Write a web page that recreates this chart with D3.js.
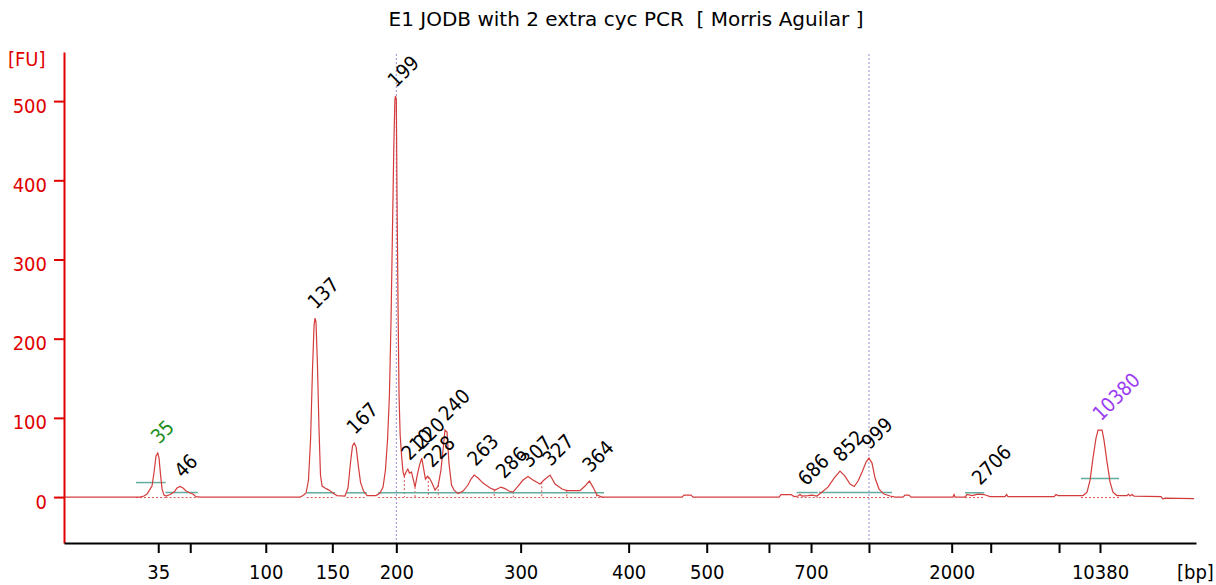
<!DOCTYPE html>
<html>
<head>
<meta charset="utf-8">
<script src="https://cdn.jsdelivr.net/npm/d3@7"></script>
<style>
	body { margin: 0; background: #fff; }
	svg text { font-family: "DejaVu Sans Condensed", "DejaVu Sans", sans-serif; font-size: 20px; }
	svg text.title { font-family: "DejaVu Sans", sans-serif; white-space: pre; }
</style>
</head>
<body>
<div id="chart"></div>
<script>
const dest		= '#chart';

const title		= 'E1 JODB with 2 extra cyc PCR  [ Morris Aguilar ]';

// ladder sizes [bp] and their migration times [s]
const ladderBp		= [35, 50, 100, 150, 200, 300, 400, 500, 600, 700, 1000, 2000, 3000, 7000, 10380];
const ladderTime	= [46.89, 48.89, 53.61, 57.77, 61.77, 69.54, 76.29, 81.17, 85.06, 87.69, 91.31, 96.48, 98.92, 103.19, 105.75];
const ladderShown	= [35, 100, 150, 200, 300, 400, 500, 700, 2000, 10380];

const fuTicks		= [0, 100, 200, 300, 400, 500];

// electropherogram: [time s, FU]
const trace = [
	[41.0, 0], [45.75, 0], [46.0, 1.3], [46.19, 3.8], [46.38, 10.1], [46.5, 13.9], [46.63, 31.6], [46.75, 51.8],
	[46.86, 55.6], [46.94, 49.2], [47.03, 29.0], [47.13, 10.1], [47.25, 2.5], [47.38, 1.3], [47.63, 3.2], [47.88, 6.3],
	[48.06, 11.4], [48.25, 13.3], [48.44, 11.4], [48.63, 7.6], [48.88, 5.1], [49.06, 3.8], [49.25, 0.6], [49.5, 0],
	[55.75, 0], [55.94, 1.9], [56.13, 5.1], [56.28, 21.5], [56.41, 72.0], [56.53, 160.4], [56.63, 217.2], [56.69, 226.0],
	[56.75, 221.0], [56.84, 166.7], [56.94, 84.6], [57.03, 27.8], [57.13, 13.9], [57.31, 11.4], [57.56, 8.8], [57.81, 5.1],
	[58.06, 1.9], [58.56, 1.3], [58.75, 11.4], [58.91, 44.2], [59.03, 64.4], [59.14, 68.2], [59.26, 63.1], [59.39, 40.4],
	[59.53, 18.9], [59.72, 7.6], [59.94, 1.9], [60.5, 1.9], [60.75, 5.1], [60.94, 12.6], [61.09, 34.1], [61.22, 72.0],
	[61.34, 128.8], [61.44, 223.5], [61.53, 337.1], [61.61, 438.1], [61.68, 501.3], [61.72, 506.3], [61.77, 501.3], [61.81, 387.6],
	[61.88, 236.1], [61.94, 128.8], [62.01, 78.3], [62.11, 49.2], [62.19, 31.6], [62.27, 26.5], [62.38, 31.6], [62.49, 35.4],
	[62.59, 30.3], [62.72, 31.6], [62.81, 24.0], [62.94, 12.6], [63.09, 29.0], [63.22, 40.4], [63.36, 49.2], [63.47, 36.6],
	[63.59, 22.7], [63.72, 26.5], [63.84, 24.0], [64.0, 17.7], [64.19, 8.8], [64.38, 13.9], [64.56, 34.1], [64.72, 65.7],
	[64.81, 84.6], [64.94, 82.1], [65.06, 42.9], [65.22, 15.2], [65.38, 8.8], [65.63, 4.4], [65.94, 7.6], [66.25, 15.2],
	[66.44, 22.7], [66.63, 27.8], [66.88, 24.0], [67.19, 17.7], [67.63, 11.4], [67.94, 8.8], [68.31, 12.6], [68.56, 10.7],
	[68.81, 7.6], [69.06, 6.3], [69.38, 13.9], [69.69, 21.5], [70.0, 25.9], [70.31, 21.5], [70.75, 16.4], [71.0, 21.5],
	[71.38, 27.8], [71.69, 16.4], [72.13, 10.1], [72.44, 8.2], [73.25, 8.2], [73.56, 13.9], [73.84, 20.2], [74.06, 12.6],
	[74.31, 2.5], [74.63, 0], [79.63, 0], [79.75, 2.5], [80.19, 2.5], [80.31, 0], [85.69, 0], [85.81, 3.2],
	[86.44, 3.2], [86.63, 0.6], [86.88, 1.3], [87.0, 3.2], [87.13, 1.3], [87.5, 1.9], [87.75, 2.5], [88.06, 1.3],
	[88.38, 6.3], [88.75, 12.6], [89.13, 24.0], [89.5, 32.8], [89.81, 26.5], [90.13, 16.4], [90.39, 13.3], [90.63, 20.2],
	[90.88, 31.6], [91.13, 44.2], [91.31, 49.2], [91.5, 42.9], [91.69, 24.0], [91.94, 10.1], [92.25, 3.8], [92.63, 1.3],
	[92.94, 0], [93.44, 0], [93.56, 2.5], [93.81, 2.5], [93.94, 0], [96.56, 0], [96.63, 3.2], [96.69, 0],
	[97.31, 0], [97.44, 3.2], [97.75, 1.9], [98.13, 3.8], [98.5, 3.2], [98.88, 0.6], [99.81, 0.6], [99.91, 3.2],
	[100.0, 0.6], [102.88, 0.6], [103.0, 3.2], [103.13, 1.9], [104.69, 1.9], [104.94, 6.3], [105.13, 21.5], [105.31, 49.2],
	[105.5, 74.5], [105.63, 84.6], [105.88, 84.6], [106.0, 72.0], [106.19, 44.2], [106.38, 18.9], [106.56, 6.3], [106.81, 1.9],
	[107.44, 1.9], [107.53, 3.8], [107.63, 1.3], [107.75, 3.2], [107.88, 1.3], [109.56, 0.6], [109.69, -2.5], [109.81, -1.3],
	[111.63, -1.9]
];

// called peaks
const peakBp		= [35, 46, 137, 167, 199, 210, 220, 228, 240, 263, 286, 307, 327, 364, 686, 852, 999, 2706, 10380];
const peakFU		= [56, 13, 226, 68, 506, 35, 49, 26, 85, 28, 12, 26, 28, 20, 3, 33, 49, 4, 85];
const lowerMarker	= 35;
const upperMarker	= 10380;

// peak windows: [start s, end s, level FU]
const peakWindows = [
	[45.5, 47.35, 18.3], [47.35, 49.36, 5.7], [56.17, 57.94, 5.4], [58.67, 59.92, 5.4], [60.64, 74.75, 5.4],
	[86.79, 88.11, 5.7], [88.19, 92.75, 5.7], [97.31, 98.52, 5.4], [104.56, 106.94, 23.6]
];
const peakSplits	= [62.27, 62.94, 63.77, 64.39, 67.89, 69.08, 70.86, 72.42, 74.29];
const regionBp		= [200, 1000];

function createElectropherogram() {
	let margin		= { top: 52, right: 20, bottom: 42, left: 64 };
	let width		= 1216 - margin.left - margin.right;
	let height		= 585 - margin.top - margin.bottom;

	let x			= d3.scaleLinear().domain([41, 111.75]).range([0, width]);
	let y			= d3.scaleLinear().domain([-58, 562]).range([height, 0]);
	let bpTime		= d3.scaleLinear().domain(ladderBp).range(ladderTime);

	let fuAt		= (t) => {
		let i = d3.bisector((d) => d[0]).left(trace, t);
		let a = trace[Math.max(0, i - 1)], b = trace[Math.min(trace.length - 1, i)];
		return (b[0] == a[0]) ? a[1] : a[1] + (b[1] - a[1]) * (t - a[0]) / (b[0] - a[0]);
	};

	let root = d3.select(dest).append('svg')
		.attr('width', 1216)
		.attr('height', 585);

	root.append('text')
		.attr('class', 'title')
		.attr('x', 626)
		.attr('y', 26)
		.attr('text-anchor', 'middle')
		.attr('fill', '#000')
		.text(title);

	let svg = root.append('g')
		.attr('transform', 'translate(' + margin.left + ',' + margin.top + ')');

	// region lines
	svg.append('g').selectAll('line')
		.data(regionBp)
		.enter().append('line')
			.attr('x1', (o) => x(bpTime(o)))
			.attr('x2', (o) => x(bpTime(o)))
			.attr('y1', 2)
			.attr('y2', height)
			.attr('stroke', '#8f8fd6')
			.attr('stroke-width', 1)
			.attr('stroke-dasharray', '2,2');

	// baselines below peaks
	svg.append('g').selectAll('line')
		.data(peakWindows)
		.enter().append('line')
			.attr('x1', (o) => x(o[0]))
			.attr('x2', (o) => x(o[1]))
			.attr('y1', y(0) + 0.5)
			.attr('y2', y(0) + 0.5)
			.attr('stroke', '#d9534f')
			.attr('stroke-width', 1)
			.attr('stroke-dasharray', '2,2');

	svg.append('g').selectAll('line')
		.data(peakSplits)
		.enter().append('line')
			.attr('x1', (o) => x(o))
			.attr('x2', (o) => x(o))
			.attr('y1', (o) => y(fuAt(o)))
			.attr('y2', y(0))
			.attr('stroke', '#d9534f')
			.attr('stroke-width', 1)
			.attr('stroke-dasharray', '2,2');

	svg.append('g').selectAll('line')
		.data(peakWindows)
		.enter().append('line')
			.attr('x1', (o) => x(o[0]))
			.attr('x2', (o) => x(o[1]))
			.attr('y1', (o) => y(o[2]))
			.attr('y2', (o) => y(o[2]))
			.attr('stroke', '#62ad9f')
			.attr('stroke-width', 1.5);

	// trace
	svg.append('path')
		.datum(trace)
		.attr('fill', 'none')
		.attr('stroke', '#d43c3c')
		.attr('stroke-width', 1.2)
		.attr('d', d3.line().x((o) => x(o[0])).y((o) => y(o[1])));

	// peak labels
	svg.append('g').selectAll('text')
		.data(peakBp)
		.enter().append('text')
			.attr('transform', (o, i) => 'translate(' + (x(bpTime(o)) + 1) + ',' + (y(peakFU[i]) - 8) + ') rotate(-45)')
			.attr('fill', (o) => (o == lowerMarker ? '#1f8f1f' : (o == upperMarker ? '#9b3cf0' : '#000')))
			.text((o) => o);

	// axes
	let yAxis = svg.append('g')
		.call(d3.axisLeft(y).tickValues(fuTicks).tickSize(10).tickSizeOuter(0).tickPadding(7));
	yAxis.selectAll('path, line').attr('stroke', '#e00000').attr('stroke-width', 2);
	yAxis.selectAll('text').attr('fill', '#e00000').attr('dy', '0.55em').style('font-size', '20px').style('font-family', null);

	let xAxis = svg.append('g')
		.attr('transform', 'translate(0,' + height + ')')
		.call(d3.axisBottom(x).tickValues(ladderTime).tickSize(10).tickSizeOuter(0).tickPadding(12)
			.tickFormat((o, i) => (_includes(ladderShown, ladderBp[i]) ? ladderBp[i] : '')));
	xAxis.selectAll('path, line').attr('stroke', '#000').attr('stroke-width', 2);
	xAxis.selectAll('text').attr('fill', '#000').style('font-size', '20px').style('font-family', null);

	svg.append('text')
		.attr('x', -56)
		.attr('y', 14)
		.attr('fill', '#e00000')
		.text('[FU]');

	svg.append('text')
		.attr('x', width - 19)
		.attr('y', height + 36)
		.attr('fill', '#000')
		.text('[bp]');
}

function _includes(arr, v) { return arr.indexOf(v) >= 0; }

createElectropherogram();
</script>
</body>
</html>
